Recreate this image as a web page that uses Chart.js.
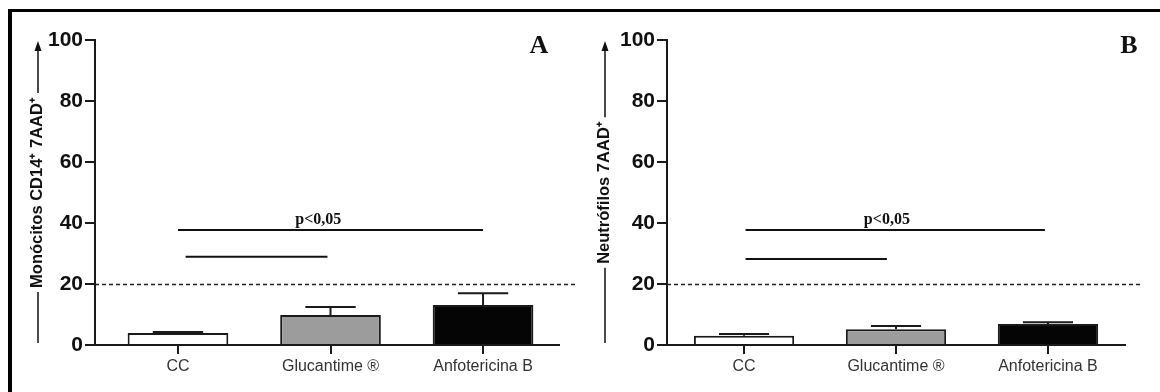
<!DOCTYPE html>
<html><head><meta charset="utf-8">
<script src="https://cdn.jsdelivr.net/npm/chart.js@4/dist/chart.umd.min.js"></script>
<style>
html,body{margin:0;padding:0;background:#fff;width:1160px;height:392px;overflow:hidden;position:relative}
#frame{position:absolute;left:8px;top:9px;width:1200px;height:420px;border-left:4px solid #000;border-top:3px solid #000;box-sizing:border-box}
.panel{position:absolute;top:0;width:590px;height:392px}
#pA{left:0}#pB{left:570px}
canvas{display:block}
</style></head><body>
<div id="frame"></div>
<div class="panel" id="pA"><canvas id="cA" width="590" height="392"></canvas></div>
<div class="panel" id="pB"><canvas id="cB" width="590" height="392"></canvas></div>
<script>
// ---- data ----
const categories = ['CC', 'Glucantime \u00AE', 'Anfotericina B'];
const yTickValues = [0, 20, 40, 60, 80, 100];
const monocitosMean = [3.9, 9.8, 13.1];
const monocitosErrTop = [4.3, 12.5, 17.0];
const neutrofilosMean = [3.0, 5.2, 6.9];
const neutrofilosErrTop = [3.6, 6.2, 7.5];
const thresholdValue = 20;
// significance brackets: start category, end category, level
const sigFromA = [0, 0.05], sigToA = [2, 0.98], sigLevelA = [37.7, 28.9];
const sigFromB = [0.01, 0.01], sigToB = [1.98, 0.94], sigLevelB = [37.7, 28.2];
const sigText = 'p<0,05';
const titleA = 'Monócitos CD14\u207A 7AAD\u207A';
const titleB = 'Neutrófilos 7AAD\u207A';

const barFills = ['#ffffff', '#9c9c9c', '#050505'];
const ink = '#1a1a1a';
const titleFont = {family: '"Liberation Sans", Arial, sans-serif', size: 16.5, weight: 'bold'};

const annotPlugin = {
  id: 'annot',
  afterDraw(chart, args, o) {
    const {ctx, chartArea: ca} = chart;
    const x = chart.scales.x, y = chart.scales.y;
    const meta = chart.getDatasetMeta(0);
    ctx.save();
    // error bars (upper SEM)
    ctx.strokeStyle = ink; ctx.lineWidth = 2;
    meta.data.forEach((bar, i) => {
      const top = y.getPixelForValue(o.err[i]);
      const half = bar.width * 0.25;
      ctx.beginPath();
      ctx.moveTo(bar.x, bar.y); ctx.lineTo(bar.x, top);
      ctx.moveTo(bar.x - half, top); ctx.lineTo(bar.x + half, top);
      ctx.stroke();
    });
    // dashed threshold
    const ty = Math.round(y.getPixelForValue(thresholdValue)) + 0.5;
    ctx.setLineDash([4, 3]); ctx.lineWidth = 1.3; ctx.strokeStyle = '#222';
    ctx.beginPath(); ctx.moveTo(ca.left, ty); ctx.lineTo(ca.right + o.dashExtra, ty); ctx.stroke();
    ctx.setLineDash([]);
    // significance lines
    ctx.lineWidth = 2; ctx.strokeStyle = '#111';
    o.from.forEach((f, i) => {
      const py = y.getPixelForValue(o.level[i]);
      ctx.beginPath(); ctx.moveTo(x.getPixelForValue(f), py); ctx.lineTo(x.getPixelForValue(o.to[i]), py); ctx.stroke();
    });
    // p label
    ctx.fillStyle = '#111';
    ctx.font = 'bold 16px "Liberation Serif", "Times New Roman", serif';
    ctx.textAlign = 'center'; ctx.textBaseline = 'alphabetic';
    ctx.fillText(sigText, x.getPixelForValue(o.pX), y.getPixelForValue(o.level[0]) - 6);
    // panel letter
    ctx.font = 'bold 26px "Liberation Serif", "Times New Roman", serif';
    ctx.textBaseline = 'middle';
    ctx.fillText(o.letter, o.letterX, 46);
    // arrow around y-axis title
    ctx.font = `bold ${titleFont.size}px ${titleFont.family}`;
    const w = ctx.measureText(o.title).width;
    const cx = o.titleX;
    const cy = (ca.top + ca.bottom) / 2;
    ctx.strokeStyle = '#111'; ctx.lineWidth = 1.5;
    ctx.beginPath();
    ctx.moveTo(cx, ca.bottom - 2); ctx.lineTo(cx, cy + w / 2 + 4);
    ctx.moveTo(cx, cy - w / 2 - 4); ctx.lineTo(cx, ca.top + 8);
    ctx.stroke();
    ctx.fillStyle = '#111';
    ctx.beginPath();
    ctx.moveTo(cx, ca.top + 1); ctx.lineTo(cx - 3.5, ca.top + 11); ctx.lineTo(cx + 3.5, ca.top + 11); ctx.closePath();
    ctx.fill();
    ctx.restore();
  }
};

function makeChart(id, means, errs, cfg) {
  return new Chart(document.getElementById(id), {
    type: 'bar',
    data: {
      datasets: [{
        data: means.map((v, i) => ({x: i, y: v})),
        backgroundColor: barFills,
        borderColor: ink,
        borderWidth: 2,
        borderSkipped: 'start',
        barPercentage: 0.66,
        categoryPercentage: 1
      }]
    },
    options: {
      responsive: false,
      animation: false,
      events: [],
      layout: {padding: {top: 40, right: cfg.padRight, left: 0, bottom: 0}},
      plugins: {
        legend: {display: false}, tooltip: {enabled: false},
        annot: {err: errs, from: cfg.from, to: cfg.to, level: cfg.level, pX: cfg.pX,
                letter: cfg.letter, letterX: cfg.letterX, dashExtra: cfg.dashExtra,
                title: cfg.title, titleX: cfg.titleX}
      },
      scales: {
        x: {
          type: 'linear', min: cfg.xmin, max: cfg.xmax, offset: false,
          afterBuildTicks: s => { s.ticks = categories.map((c, i) => ({value: i})); },
          afterFit: s => { s.height = 47; },
          grid: {display: true, offset: false, drawOnChartArea: false, drawTicks: true, tickLength: 9, color: ink, lineWidth: 2},
          border: {display: true, color: ink, width: 2},
          ticks: {
            callback: v => categories[v] ?? '',
            color: '#333', padding: 3, maxRotation: 0, autoSkip: false,
            font: {family: '"Liberation Sans", Arial, sans-serif', size: 16}
          }
        },
        y: {
          min: 0, max: 100,
          afterBuildTicks: s => { s.ticks = yTickValues.map(v => ({value: v})); },
          afterFit: s => { s.width = cfg.axisLeft; },
          grid: {display: true, drawOnChartArea: false, drawTicks: true, tickLength: 10, color: ink, lineWidth: 2},
          border: {display: true, color: ink, width: 2},
          ticks: {
            color: '#111', padding: 2,
            font: {family: '"Liberation Sans Narrow", "Liberation Sans", Arial, sans-serif', size: 21, weight: 'bold'}
          },
          title: {
            display: true, text: cfg.title, color: '#111',
            font: titleFont,
            padding: {top: cfg.titleX - 10, bottom: 0}
          }
        }
      }
    },
    plugins: [annotPlugin]
  });
}

makeChart('cA', monocitosMean, monocitosErrTop, {
  xmin: -0.544, xmax: 2.498, padRight: 31, axisLeft: 95,
  from: sigFromA, to: sigToA, level: sigLevelA, pX: 0.92,
  letter: 'A', letterX: 539, dashExtra: 18, title: titleA, titleX: 38
});
makeChart('cB', neutrofilosMean, neutrofilosErrTop, {
  xmin: -0.507, xmax: 2.507, padRight: 35, axisLeft: 97,
  from: sigFromB, to: sigToB, level: sigLevelB, pX: 0.94,
  letter: 'B', letterX: 559, dashExtra: 18, title: titleB, titleX: 35
});
</script>
</body></html>
